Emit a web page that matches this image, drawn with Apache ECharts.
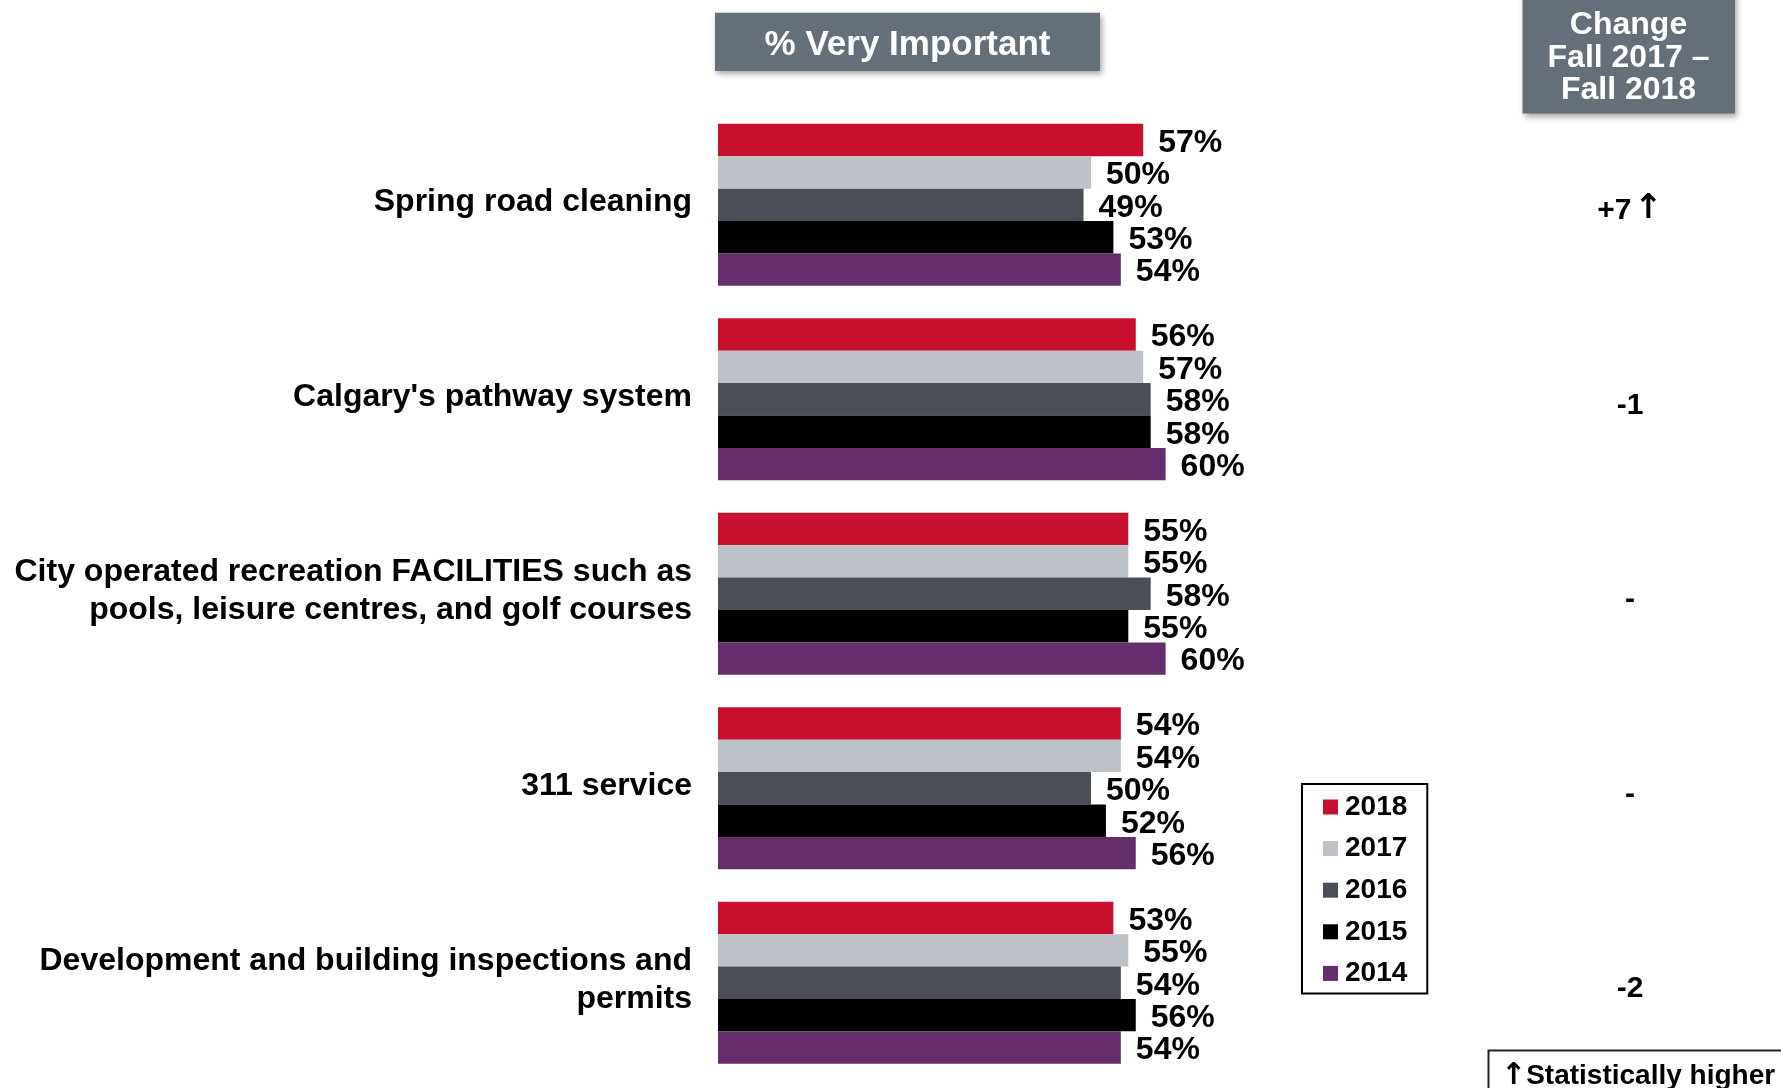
<!DOCTYPE html>
<html>
<head>
<meta charset="utf-8">
<title>% Very Important</title>
<script src="https://cdn.jsdelivr.net/npm/echarts@6/dist/echarts.min.js"></script>
<style>
  html, body { margin: 0; padding: 0; background: #ffffff; }
  #chart { width: 1781px; height: 1088px; }
</style>
</head>
<body>
<div id="chart"></div>
<script>
// Service attributes (top to bottom)
const categories = [
  'Spring road cleaning',
  "Calgary's pathway system",
  'City operated recreation FACILITIES such as\npools, leisure centres, and golf courses',
  '311 service',
  'Development and building inspections and\npermits'
];

// Survey years, in the order they are drawn within each group
const years = ['2018', '2017', '2016', '2015', '2014'];

// % rating each attribute "very important", per year
const values2018 = [57, 56, 55, 54, 53];
const values2017 = [50, 57, 55, 54, 55];
const values2016 = [49, 58, 58, 50, 54];
const values2015 = [53, 58, 55, 52, 56];
const values2014 = [54, 60, 60, 56, 54];

// Change Fall 2017 – Fall 2018, and whether it is statistically higher
const changes = ['+7', '-1', '-', '-', '-2'];
const changeHigher = [true, false, false, false, false];

const seriesValues = [values2018, values2017, values2016, values2015, values2014];
const yearColors = ['#C8102E', '#BCC2C8', '#4A4E56', '#000000', '#652D6C'];

const FONT = '"Liberation Sans", Arial, Helvetica, sans-serif';
const ARROW_FONT = '"DejaVu Sans", "Liberation Sans", sans-serif';

const chart = echarts.init(document.getElementById('chart'), null, { renderer: 'canvas' });

const series = years.map((year, i) => ({
  name: year,
  type: 'bar',
  data: seriesValues[i],
  barWidth: 32.4,
  barGap: '0%',
  itemStyle: { color: yearColors[i] },
  label: {
    show: true,
    position: 'right',
    distance: 15,
    offset: [0, 3],
    formatter: '{c}%',
    color: '#000',
    fontFamily: FONT,
    fontWeight: 'bold',
    fontSize: 32
  }
}));

const changeLabels = changes.map((c, i) => (changeHigher[i] ? c + '{arr|\u2191}' : c));

chart.setOption({
  animation: false,
  backgroundColor: '#ffffff',
  textStyle: { fontFamily: FONT },
  grid: { left: 718, right: 317, top: 107.6, bottom: 8, containLabel: false },
  xAxis: {
    type: 'value',
    min: 0,
    max: 100,
    show: false
  },
  yAxis: [
    {
      type: 'category',
      data: categories,
      inverse: true,
      axisLine: { show: false },
      axisTick: { show: false },
      axisLabel: {
        margin: 26,
        color: '#000',
        fontFamily: FONT,
        fontWeight: 'bold',
        fontSize: 32,
        lineHeight: 38,
        align: 'right',
        padding: [0, 0, 5, 0],
        rich: { plain: {} }
      }
    },
    {
      type: 'category',
      data: changeLabels,
      inverse: true,
      position: 'right',
      axisLine: { show: false },
      axisTick: { show: false },
      axisLabel: {
        margin: 166,
        align: 'center',
        color: '#000',
        fontFamily: FONT,
        fontWeight: 'bold',
        fontSize: 30,
        padding: [12, 0, 0, 0],
        rich: {
          arr: {
            fontFamily: ARROW_FONT,
            fontWeight: 'bold',
            fontSize: 34,
            color: '#000',
            padding: [0, 0, 3, 3]
          }
        }
      }
    }
  ],
  legend: {
    orient: 'vertical',
    left: 1302,
    top: 784,
    data: years,
    icon: 'rect',
    itemWidth: 15,
    itemHeight: 15,
    itemGap: 13.6,
    padding: [9, 20, 6, 21],
    borderColor: '#000',
    borderWidth: 2,
    textStyle: {
      color: '#000',
      fontFamily: FONT,
      fontWeight: 'bold',
      fontSize: 28,
      lineHeight: 28,
      padding: [0, 0, 0, 2]
    }
  },
  series: series,
  graphic: [
    {
      type: 'rect',
      shape: { x: 715, y: 12.7, width: 385, height: 58.3 },
      style: {
        fill: '#646F79',
        shadowBlur: 6,
        shadowOffsetX: 2,
        shadowOffsetY: 3,
        shadowColor: 'rgba(0,0,0,0.35)'
      },
      z: 10
    },
    {
      type: 'text',
      x: 907.5,
      y: 45,
      style: {
        text: '% Very Important',
        fill: '#ffffff',
        font: 'bold 35px ' + FONT,
        textAlign: 'center',
        textVerticalAlign: 'middle'
      },
      z: 11
    },
    {
      type: 'rect',
      shape: { x: 1522.5, y: -6, width: 212.5, height: 119.5 },
      style: {
        fill: '#646F79',
        shadowBlur: 6,
        shadowOffsetX: 2,
        shadowOffsetY: 3,
        shadowColor: 'rgba(0,0,0,0.35)'
      },
      z: 10
    },
    {
      type: 'text',
      x: 1628.5,
      y: 58,
      style: {
        text: 'Change\nFall 2017 \u2013\nFall 2018',
        fill: '#ffffff',
        font: 'bold 32px ' + FONT,
        lineHeight: 32.5,
        textAlign: 'center',
        textVerticalAlign: 'middle'
      },
      z: 11
    },
    {
      type: 'rect',
      shape: { x: 1488.5, y: 1050.5, width: 330, height: 60 },
      style: { fill: '#ffffff', stroke: '#222222', lineWidth: 2 },
      z: 10
    },
    {
      type: 'text',
      x: 1501,
      y: 1076,
      style: {
        text: '{arr|\u2191}Statistically higher',
        fill: '#000',
        font: 'bold 28px ' + FONT,
        textAlign: 'left',
        textVerticalAlign: 'middle',
        rich: {
          arr: {
            fontFamily: ARROW_FONT,
            fontWeight: 'bold',
            fontSize: 30,
            fill: '#000'
          }
        }
      },
      z: 11
    }
  ]
});
</script>
</body>
</html>
